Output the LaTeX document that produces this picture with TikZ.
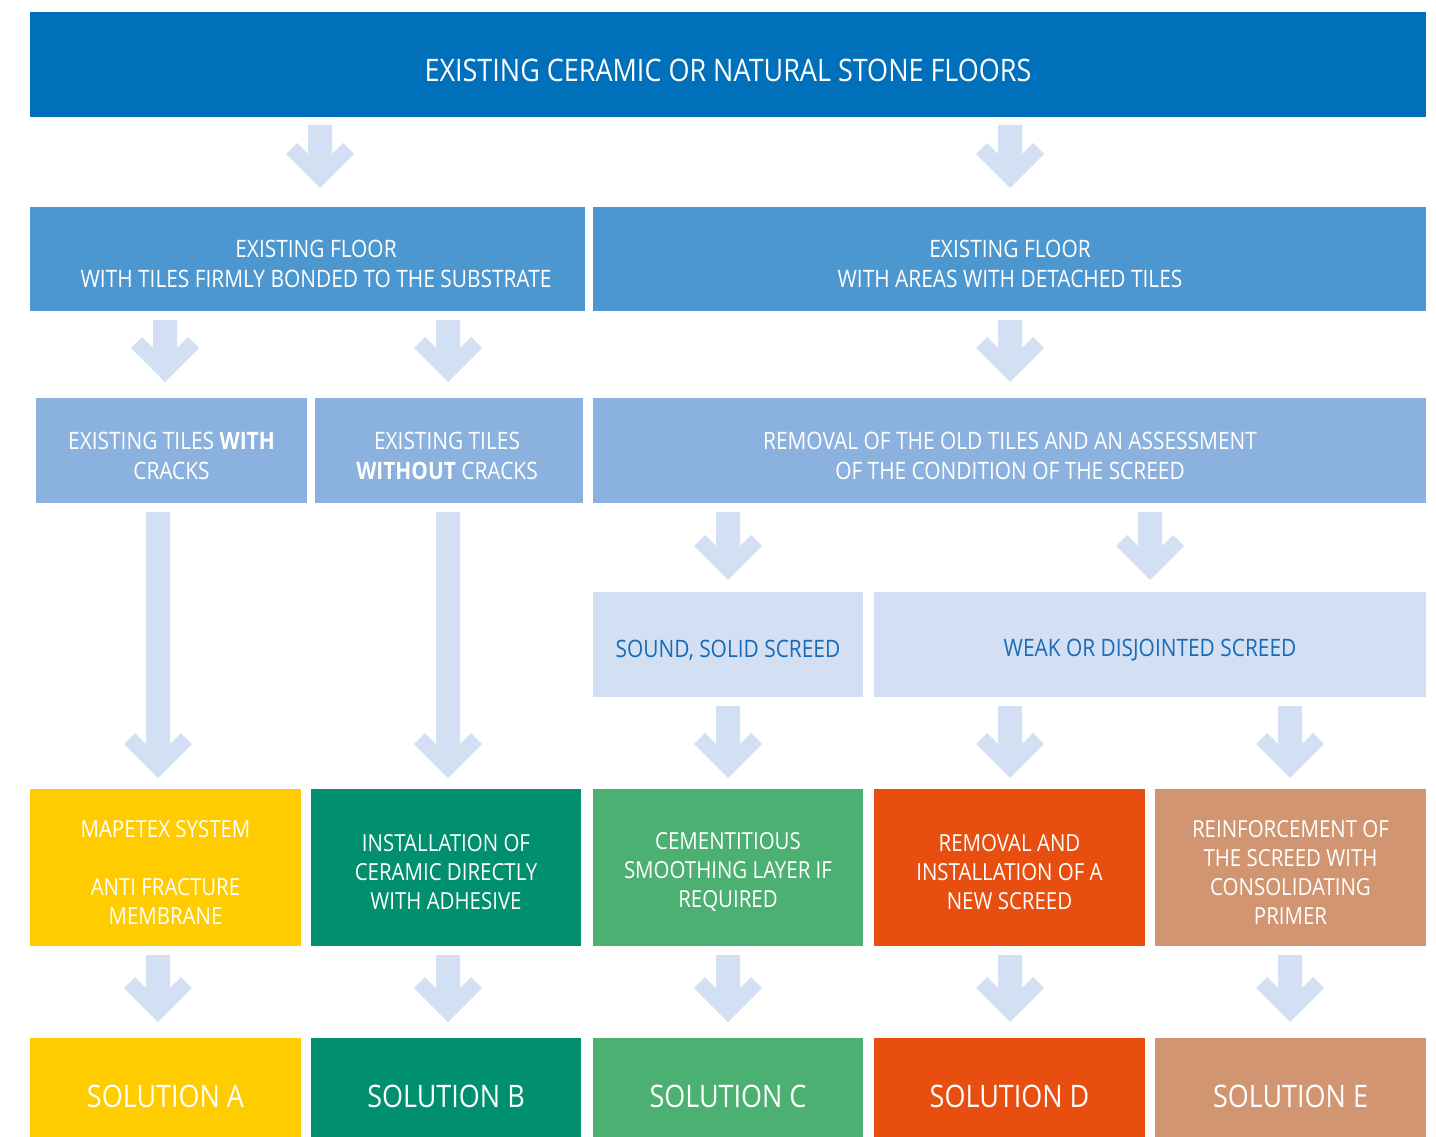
\documentclass[tikz,border=0pt]{standalone}
\usepackage{fontspec}
\setmainfont{Open Sans}[FakeStretch=0.87]
\definecolor{topc}{HTML}{0070BA}
\definecolor{lvtwo}{HTML}{4D97D0}
\definecolor{lvthree}{HTML}{8BB2DE}
\definecolor{lvfour}{HTML}{D3E0F4}
\definecolor{arrowc}{HTML}{D3E0F4}
\definecolor{bluetext}{HTML}{1A6BB5}
\definecolor{solA}{HTML}{FFCC00}
\definecolor{solB}{HTML}{00906F}
\definecolor{solC}{HTML}{4BB072}
\definecolor{solD}{HTML}{E84E0F}
\definecolor{solE}{HTML}{D29572}
\newcommand\barrow[3]{\fill[arrowc] (#1-12,#2) -- (#1+12,#2) -- (#1+12,#3-34) -- (#1+23,#3-45) -- (#1+34,#3-34) -- (#1,#3) -- (#1-34,#3-34) -- (#1-23,#3-45) -- (#1-12,#3-34) -- cycle;}
\tikzset{
  box/.style={inner sep=0pt, outer sep=0pt, draw=none, text=white, align=center},
  ttl/.style={font=\fontsize{31}{36}\selectfont},
  mid/.style={font=\fontsize{24}{30}\selectfont},
  sm/.style={font=\fontsize{23.5}{29}\selectfont},
  sol/.style={font=\fontsize{31}{36}\selectfont},
}
\begin{document}
\begin{tikzpicture}[x=1pt,y=-1pt]
\useasboundingbox (0,0) rectangle (1436,1137);
% level 1
\node[box, fill=topc, minimum width=1396, minimum height=105] (top) at (728,64.5) {};
\node[ttl, text=white] (toptxt) at (728,70) {EXISTING CERAMIC OR NATURAL STONE FLOORS};
% level 2
\node[box, fill=lvtwo, minimum width=555, minimum height=104] (firm) at (307.5,259) {};
\node[mid, text=white, align=center] (firmtxt) at (316,264) {EXISTING FLOOR\\WITH TILES FIRMLY BONDED TO THE SUBSTRATE};
\node[box, fill=lvtwo, minimum width=833, minimum height=104] (detached) at (1009.5,259) {};
\node[mid, text=white, align=center] (dettxt) at (1010,264) {EXISTING FLOOR\\WITH AREAS WITH DETACHED TILES};
% level 3
\node[box, fill=lvthree, minimum width=271, minimum height=105] (withc) at (171.5,450.5) {};
\node[mid, text=white, align=center] (withctxt) at (171.5,456) {EXISTING TILES \textbf{WITH}\\CRACKS};
\node[box, fill=lvthree, minimum width=268, minimum height=105] (withoutc) at (449,450.5) {};
\node[mid, text=white, align=center] (withouttxt) at (447,456) {EXISTING TILES\\\textbf{WITHOUT} CRACKS};
\node[box, fill=lvthree, minimum width=833, minimum height=105] (removal) at (1009.5,450.5) {};
\node[mid, text=white, align=center] (remtxt) at (1010,456) {REMOVAL OF THE OLD TILES AND AN ASSESSMENT\\OF THE CONDITION OF THE SCREED};
% level 4
\node[box, fill=lvfour, minimum width=270, minimum height=105] (sound) at (728,644.5) {};
\node[mid, text=bluetext] (soundtxt) at (728,650) {SOUND, SOLID SCREED};
\node[box, fill=lvfour, minimum width=552, minimum height=105] (weak) at (1150,644.5) {};
\node[mid, text=bluetext] (weaktxt) at (1150,650) {WEAK OR DISJOINTED SCREED};
% level 5
\node[box, fill=solA, minimum width=271, minimum height=157] (pa) at (165.5,867.5) {};
\node[sm, text=white, align=center] (patxt) at (165.5,872) {MAPETEX SYSTEM\\[29pt]ANTI FRACTURE\\MEMBRANE};
\node[box, fill=solB, minimum width=270, minimum height=157] (pb) at (446,867.5) {};
\node[sm, text=white, align=center] (pbtxt) at (446,872) {INSTALLATION OF\\CERAMIC DIRECTLY\\WITH ADHESIVE};
\node[box, fill=solC, minimum width=270, minimum height=157] (pc) at (728,867.5) {};
\node[sm, text=white, align=center] (pctxt) at (728,872) {CEMENTITIOUS\\SMOOTHING LAYER IF\\REQUIRED};
\node[box, fill=solD, minimum width=271, minimum height=157] (pd) at (1009.5,867.5) {};
\node[sm, text=white, align=center] (pdtxt) at (1009.5,872) {REMOVAL AND\\INSTALLATION OF A\\NEW SCREED};
\node[box, fill=solE, minimum width=271, minimum height=157] (pe) at (1290.5,867.5) {};
\node[sm, text=white, align=center] (petxt) at (1290.5,872) {REINFORCEMENT OF\\THE SCREED WITH\\CONSOLIDATING\\PRIMER};
% level 6
\node[box, fill=solA, minimum width=271, minimum height=116] (sa) at (165.5,1096) {};
\node[sol, text=white] (satxt) at (165.5,1096) {SOLUTION A};
\node[box, fill=solB, minimum width=270, minimum height=116] (sb) at (446,1096) {};
\node[sol, text=white] (sbtxt) at (446,1096) {SOLUTION B};
\node[box, fill=solC, minimum width=270, minimum height=116] (sc) at (728,1096) {};
\node[sol, text=white] (sctxt) at (728,1096) {SOLUTION C};
\node[box, fill=solD, minimum width=271, minimum height=116] (sd) at (1009.5,1096) {};
\node[sol, text=white] (sdtxt) at (1009.5,1096) {SOLUTION D};
\node[box, fill=solE, minimum width=271, minimum height=116] (se) at (1290.5,1096) {};
\node[sol, text=white] (setxt) at (1290.5,1096) {SOLUTION E};
% arrows
\barrow{320}{125}{188}
\barrow{1010}{125}{188}
\barrow{165}{320}{382}
\barrow{448}{320}{382}
\barrow{1010}{320}{382}
\barrow{158}{512}{778}
\barrow{448}{512}{778}
\barrow{728}{512}{580}
\barrow{1150}{512}{580}
\barrow{728}{706}{778}
\barrow{1010}{706}{778}
\barrow{1290}{706}{778}
\barrow{158}{955}{1022}
\barrow{448}{955}{1022}
\barrow{728}{955}{1022}
\barrow{1010}{955}{1022}
\barrow{1290}{955}{1022}
\end{tikzpicture}
\end{document}
